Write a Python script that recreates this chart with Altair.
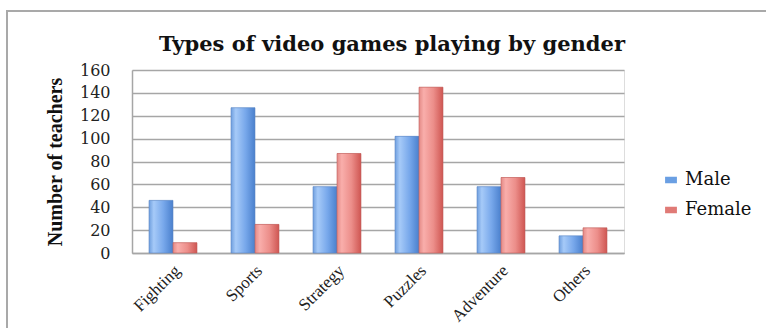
import altair as alt
import pandas as pd

categories = ["Fighting", "Sports", "Strategy", "Puzzles", "Adventure", "Others"]
series = ["Male", "Female"]
male = [46, 127, 58, 102, 58, 15]
female = [9, 25, 87, 145, 66, 22]
y_ticks = [0, 20, 40, 60, 80, 100, 120, 140, 160]

rows = []
for c, m, f in zip(categories, male, female):
    rows.append({"game": c, "gender": "Male", "count": m})
    rows.append({"game": c, "gender": "Female", "count": f})
df = pd.DataFrame(rows)

W, H = 492, 183
SERIF = "DejaVu Serif"

x_enc = alt.X(
    "game:N", sort=categories, title=None,
    scale=alt.Scale(paddingInner=0.415, paddingOuter=0.2075),
    axis=alt.Axis(labelAngle=-45, labelAlign="right", labelBaseline="top",
                  labelPadding=9, labelOffset=-1, labelFont="Liberation Serif",
                  labelFontSize=17, labelColor="#222222", ticks=False,
                  domainColor="#a6a6a6", domainWidth=1.5, grid=False,
                  labelOverlap=False),
)
xo_enc = alt.XOffset("gender:N", sort=series,
                     scale=alt.Scale(domain=series, paddingInner=0, paddingOuter=0))
y_enc = alt.Y(
    "count:Q", title="Number of teachers",
    scale=alt.Scale(domain=[0, 160], nice=False),
    axis=alt.Axis(values=y_ticks, ticks=False, labelPadding=22, labelFont=SERIF,
                  labelFontSize=16, labelColor="#222222", gridColor="#a6a6a6",
                  gridWidth=1.5, domainColor="#a6a6a6", domainWidth=1.5,
                  titleFont="Liberation Serif", titleFontSize=20, titleFontWeight="bold",
                  titleColor="#111111", titleAngle=-90, titleAlign="center",
                  titleBaseline="middle", titleX=-77, titleY=H / 2),
)

base = alt.Chart(df).encode(x=x_enc, xOffset=xo_enc, y=y_enc)

legend_bars = base.mark_bar().encode(
    color=alt.Color("gender:N", sort=series,
                    scale=alt.Scale(domain=series, range=["#6a9fe3", "#e07a76"]),
                    legend=alt.Legend(title=None, orient="none", legendX=530, legendY=101,
                                      symbolType="M-1,-0.55H1V0.55H-1Z", symbolSize=140,
                                      symbolStrokeWidth=0, labelFont=SERIF, labelFontSize=18,
                                      labelColor="#111111", rowPadding=12, labelOffset=5))
)

blue_grad = alt.Gradient(gradient="linear", x1=0, x2=1, y1=0, y2=0, stops=[
    alt.GradientStop(offset=0, color="#6f9fdf"),
    alt.GradientStop(offset=0.2, color="#a6caf8"),
    alt.GradientStop(offset=0.6, color="#78a8eb"),
    alt.GradientStop(offset=1, color="#4a80cd"),
])
red_grad = alt.Gradient(gradient="linear", x1=0, x2=1, y1=0, y2=0, stops=[
    alt.GradientStop(offset=0, color="#e48a86"),
    alt.GradientStop(offset=0.2, color="#f9aeab"),
    alt.GradientStop(offset=0.6, color="#ec8e8a"),
    alt.GradientStop(offset=1, color="#cf5652"),
])

male_bars = base.transform_filter(alt.datum.gender == "Male").mark_bar(
    fill=blue_grad, stroke="#5f88c4", strokeWidth=0.6)
female_bars = base.transform_filter(alt.datum.gender == "Female").mark_bar(
    fill=red_grad, stroke="#c0605c", strokeWidth=0.6)

one = pd.DataFrame({"k": [0]})
border_left = alt.Chart(one).mark_rule(color="#a9a9a9", strokeWidth=2).encode(
    x=alt.value(-125), y=alt.value(-59), y2=alt.value(260))
border_top = alt.Chart(one).mark_rule(color="#a9a9a9", strokeWidth=2).encode(
    x=alt.value(-126), x2=alt.value(640), y=alt.value(-59))

chart = alt.layer(legend_bars, male_bars, female_bars, border_left, border_top).properties(
    width=W, height=H,
    title=alt.TitleParams("Types of video games playing by gender", font=SERIF,
                          fontSize=21, fontWeight="bold", color="#111111",
                          anchor="middle", dx=14, offset=-45),
    autosize=alt.AutoSizeParams(type="none"),
    padding={"left": 132, "top": 70, "right": 142, "bottom": 75},
).configure_view(stroke=None).configure(background="white")

chart.save("out.html", embed_options={"renderer": "svg", "actions": False})
